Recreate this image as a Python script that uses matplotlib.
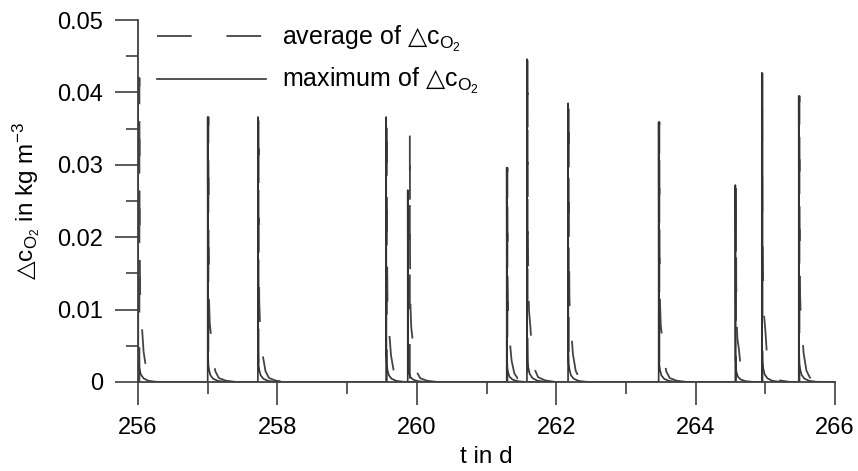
import matplotlib
matplotlib.use("Agg")
import matplotlib.pyplot as plt
from matplotlib.ticker import MultipleLocator, FuncFormatter
import numpy as np

plt.rcParams['font.family'] = ['Liberation Sans', 'DejaVu Sans']
plt.rcParams['mathtext.fontset'] = 'custom'
plt.rcParams['mathtext.rm'] = 'Liberation Sans'
plt.rcParams['mathtext.it'] = 'Liberation Sans'
plt.rcParams['mathtext.sf'] = 'DejaVu Sans'
plt.rcParams['lines.scale_dashes'] = False

# ---- data ----
# spike (event) times in days and peak values in kg m^-3
max_times = [256.00, 257.00, 257.72, 259.56, 259.87, 261.29, 261.58, 262.17, 263.47, 264.57, 264.95, 265.48]
max_peaks = [0.0420, 0.0366, 0.0366, 0.0366, 0.0265, 0.0296, 0.0446, 0.0385, 0.0359, 0.0272, 0.0427, 0.0395]
avg_times = [256.02, 257.01, 257.73, 259.57, 259.90, 261.30, 261.59, 262.18, 263.48, 264.58, 264.96, 265.49]
avg_peaks = [0.0420, 0.0366, 0.0366, 0.0366, 0.0344, 0.0296, 0.0446, 0.0385, 0.0359, 0.0272, 0.0427, 0.0395]

# decay profile after each spike (offset in days, fraction of peak)
max_offsets = [0.0, 0.004, 0.010, 0.020, 0.040, 0.080, 0.150, 0.250, 0.400]
max_fracs   = [1.0, 0.12, 0.065, 0.045, 0.025, 0.012, 0.004, 0.001, 0.0]
avg_offsets = [0.0, 0.003, 0.010, 0.020, 0.040, 0.060, 0.100, 0.150, 0.250, 0.400]
avg_fracs   = [1.0, 0.50, 0.30, 0.22, 0.17, 0.10, 0.04, 0.015, 0.005, 0.0]

x_start, x_end = 256, 266

TRI = '$\\mathsf{△}$'
legend_labels = ['average of ' + TRI + 'c$_{\\mathrm{O}_2}$',
                 'maximum of ' + TRI + 'c$_{\\mathrm{O}_2}$']
y_label = TRI + 'c$_{\\mathrm{O}_2}$ in kg m$^{-3}$'
x_label = 't in d'


def build_series(times, peaks, offsets, fracs):
    t, v = [], []
    for t0, p in zip(times, peaks):
        t.append(t0)
        v.append(0.0)
        for o, f in zip(offsets, fracs):
            t.append(t0 + o)
            v.append(p * f)
    t.append(x_end)
    v.append(0.0)
    return np.array(t), np.array(v)


t_max, v_max = build_series(max_times, max_peaks, max_offsets, max_fracs)
t_avg, v_avg = build_series(avg_times, avg_peaks, avg_offsets, avg_fracs)

fig = plt.figure(figsize=(8.58, 4.71), dpi=100)
ax = fig.add_axes([138 / 858, 1 - 382 / 471, 697 / 858, 362 / 471])

ax.plot(t_avg, v_avg, color='#444444', lw=1.3, linestyle=(0, (25, 25)),
        label=legend_labels[0])
ax.plot(t_max, v_max, color='#333333', lw=1.2, label=legend_labels[1])

ax.set_xlim(x_start, x_end)
ax.set_ylim(0, 0.05)

for s in ['top', 'right']:
    ax.spines[s].set_visible(False)
for s in ['left', 'bottom']:
    ax.spines[s].set_color('#404040')
    ax.spines[s].set_linewidth(1.3)

ax.xaxis.set_major_locator(MultipleLocator(2))
ax.xaxis.set_minor_locator(MultipleLocator(1))
ax.yaxis.set_major_locator(MultipleLocator(0.01))
ax.yaxis.set_minor_locator(MultipleLocator(0.005))
ax.yaxis.set_major_formatter(FuncFormatter(lambda v, p: '0' if abs(v) < 1e-9 else f'{v:.2f}'))

ax.tick_params(which='major', direction='out', length=16.5, width=1.2, color='#404040',
               labelsize=17, pad=8.5)
ax.tick_params(which='minor', direction='out', length=8.6, width=1.2, color='#404040')

ax.set_xlabel(x_label, fontsize=17.5)
ax.set_ylabel(y_label, fontsize=17.5)
ax.xaxis.set_label_coords(0.5, -0.178)
ax.yaxis.set_label_coords(-0.138, 0.5)

leg = ax.legend(loc='upper left', bbox_to_anchor=(0.027, 0.99), frameon=False,
                fontsize=18, handlelength=4.35, handletextpad=0.65,
                labelspacing=0.5, borderpad=0, borderaxespad=0)

fig.savefig('out.png', dpi=100)
